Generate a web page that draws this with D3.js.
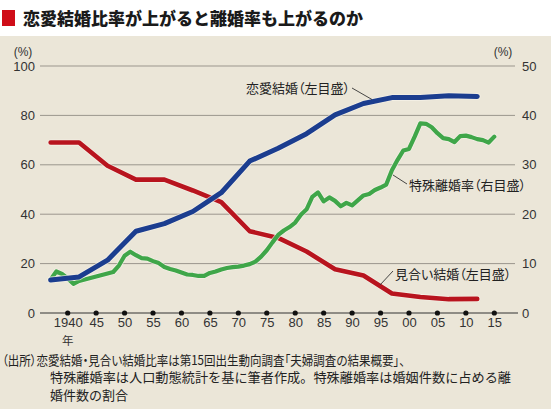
<!DOCTYPE html>
<html><head><meta charset="utf-8">
<script src="https://cdn.jsdelivr.net/npm/d3@7/dist/d3.min.js"></script>
<style>
html,body{margin:0;padding:0;background:#fff;}
svg{display:block;}
text{font-family:"Noto Sans CJK JP","Noto Sans",sans-serif;}
.num{font-family:"Liberation Sans",Arial,sans-serif;}
.palt{font-feature-settings:"palt";}
</style></head><body>
<svg id="c" width="551" height="409"></svg>
<script>
// ---- data ----
const title = "恋愛結婚比率が上がると離婚率も上がるのか";
const xTickYears = [1940,1945,1950,1955,1960,1965,1970,1975,1980,1985,1990,1995,2000,2005,2010,2015];
const xTickLabels = ["1940","45","50","55","60","65","70","75","80","85","90","95","00","05","10","15"];
const leftTicks = [0,20,40,60,80,100];
const rightTicks = [0,10,20,30,40,50];
// survey periods (1935-39 ... 2010-14) plotted at their mid years
const surveyYears = [1937,1942,1947,1952,1957,1962,1967,1972,1977,1982,1987,1992,1997,2002,2007,2012];
const loveMarriage = [13.4,14.6,21.4,33.1,36.2,41.1,48.7,61.5,66.7,72.6,80.2,84.8,87.2,87.2,88.0,87.7];
const arrangedMarriage = [69.0,69.0,59.6,54.0,54.0,49.6,44.9,33.1,30.4,24.9,17.7,15.2,7.9,6.5,5.6,5.7];
const divorceYears = [1937,1938,1939,1940,1941,1942,1943,1947,1948,1949,1950,1951,1952,1953,1954,1955,1956,1957,1958,1959,
  1960,1961,1962,1963,1964,1965,1966,1967,1968,1969,1970,1971,1972,1973,1974,1975,1976,1977,1978,1979,
  1980,1981,1982,1983,1984,1985,1986,1987,1988,1989,1990,1991,1992,1993,1994,1995,1996,1997,1998,1999,
  2000,2001,2002,2003,2004,2005,2006,2007,2008,2009,2010,2011,2012,2013,2014,2015];
const divorceRate = [6.8,8.4,7.9,7.0,5.9,6.5,6.8,8.0,8.3,9.6,11.6,12.4,11.7,11.1,11.0,10.5,10.1,9.3,8.9,8.6,
  8.2,7.8,7.7,7.5,7.5,8.1,8.4,8.8,9.1,9.3,9.4,9.6,9.9,10.4,11.4,12.7,14.3,15.8,16.7,17.4,
  18.3,19.9,21.0,23.5,24.4,22.6,23.4,22.7,21.6,22.3,21.8,22.8,23.8,24.1,24.9,25.4,26.0,28.9,31.0,32.9,
  33.2,35.7,38.4,38.3,37.6,36.4,35.4,35.2,34.6,35.8,35.9,35.6,35.2,35.0,34.5,35.7];
const seriesLabels = ["恋愛結婚（左目盛）","特殊離婚率（右目盛）","見合い結婚（左目盛）"];
const footnote = [
  "（出所）恋愛結婚・見合い結婚比率は第15回出生動向調査「夫婦調査の結果概要」、",
  "特殊離婚率は人口動態統計を基に筆者作成。特殊離婚率は婚姻件数に占める離",
  "婚件数の割合"
];

// ---- chart ----
const svg = d3.select("#c");
const W = 551, H = 409;
svg.append("rect").attr("width",W).attr("height",H).attr("fill","#fff");
svg.append("rect").attr("x",0).attr("y",36).attr("width",W).attr("height",H-36).attr("fill","#ebe6d8");

// title
svg.append("rect").attr("x",2).attr("y",10).attr("width",13).attr("height",16).attr("fill","#cf0d18");
svg.append("text").attr("x",23).attr("y",19).attr("dy","0.36em")
  .attr("font-size",17).attr("font-weight",900).attr("fill","#1a1a1a").text(title);

const x = d3.scaleLinear().domain([1940,2015]).range([67.7,494.3]);
const yL = d3.scaleLinear().domain([0,100]).range([313,66]);
const yR = d3.scaleLinear().domain([0,50]).range([313,66]);

// grid
svg.append("g").selectAll("line").data(leftTicks.filter(d=>d>0)).join("line")
  .attr("x1",40).attr("x2",515).attr("y1",d=>yL(d)).attr("y2",d=>yL(d))
  .attr("stroke","#9b968d").attr("stroke-width",1);

// left axis labels
const gl = svg.append("g").attr("transform","translate(35,0)")
  .call(d3.axisLeft(yL).tickValues(leftTicks).tickSize(0).tickPadding(0));
gl.select(".domain").remove();
gl.selectAll("text").attr("class","num").attr("font-size",13).attr("fill","#333");
// right axis labels
const gr = svg.append("g").attr("transform","translate(522,0)")
  .call(d3.axisRight(yR).tickValues(rightTicks).tickSize(0).tickPadding(0));
gr.select(".domain").remove();
gr.selectAll("text").attr("class","num").attr("font-size",13).attr("fill","#333");

svg.append("text").attr("class","num").attr("x",23).attr("y",52).attr("dy","0.35em")
  .attr("text-anchor","middle").attr("font-size",12).attr("fill","#333").text("(%)");
svg.append("text").attr("class","num").attr("x",503).attr("y",52).attr("dy","0.35em")
  .attr("text-anchor","middle").attr("font-size",12).attr("fill","#333").text("(%)");

// x axis
svg.append("line").attr("x1",40).attr("x2",518).attr("y1",yL(0)).attr("y2",yL(0))
  .attr("stroke","#333").attr("stroke-width",1);
const gx = svg.append("g").attr("transform",`translate(0,${yL(0)})`)
  .call(d3.axisBottom(x).tickValues(xTickYears).tickFormat((d,i)=>xTickLabels[i]).tickSize(0).tickPadding(5));
gx.select(".domain").remove();
gx.selectAll("text").attr("class","num").attr("font-size",13).attr("fill","#333");
svg.append("g").selectAll("circle").data(xTickYears).join("circle")
  .attr("cx",d=>x(d)).attr("cy",yL(0)).attr("r",2.6).attr("fill","#111");
svg.append("text").attr("x",x(1940)).attr("y",340.5).attr("dy","0.35em").attr("text-anchor","middle")
  .attr("font-size",11.5).attr("fill","#333").text("年");

// lines
const lineL = d3.line().x(d=>x(d[0])).y(d=>yL(d[1]));
const lineR = d3.line().x(d=>x(d[0])).y(d=>yR(d[1]));
const redData = surveyYears.map((y,i)=>[y,arrangedMarriage[i]]);
const blueData = surveyYears.map((y,i)=>[y,loveMarriage[i]]);
const greenData = divorceYears.map((y,i)=>[y,divorceRate[i]]);
function drawLine(data, gen, color, w){
  svg.append("path").datum(data).attr("d",gen).attr("fill","none")
    .attr("stroke","#f6f2ea").attr("stroke-opacity",0.7).attr("stroke-width",w+1.6)
    .attr("stroke-linejoin","round").attr("stroke-linecap","round");
  svg.append("path").datum(data).attr("d",gen).attr("fill","none")
    .attr("stroke",color).attr("stroke-width",w)
    .attr("stroke-linejoin","round").attr("stroke-linecap","round");
}
drawLine(redData, lineL, "#b8141e", 4.6);
drawLine(greenData, lineR, "#3fa649", 4.2);
drawLine(blueData, lineL, "#1b3d8f", 5);

// annotations
const ann = svg.append("g").attr("font-size",13).attr("fill","#222");
ann.append("text").attr("class","palt").attr("x",350).attr("y",88).attr("dy","0.36em").attr("text-anchor","end").text(seriesLabels[0]);
ann.append("line").attr("x1",352).attr("y1",88).attr("x2",372).attr("y2",99.5).attr("stroke","#333").attr("stroke-width",0.9);
ann.append("text").attr("class","palt").attr("x",409).attr("y",185).attr("dy","0.36em").text(seriesLabels[1]);
ann.append("line").attr("x1",393).attr("y1",175).attr("x2",407).attr("y2",184).attr("stroke","#333").attr("stroke-width",0.9);
ann.append("text").attr("class","palt").attr("x",395).attr("y",274).attr("dy","0.36em").text(seriesLabels[2]);
ann.append("line").attr("x1",380).attr("y1",285).attr("x2",393).attr("y2",271).attr("stroke","#333").attr("stroke-width",0.9);

// footnote
const fn = svg.append("g").attr("font-size",13).attr("fill","#222");
fn.append("text").attr("class","palt").attr("x",2).attr("y",360).attr("dy","0.36em")
  .attr("textLength",403).attr("lengthAdjust","spacingAndGlyphs").text(footnote[0]);
fn.append("text").attr("x",50).attr("y",377.5).attr("dy","0.36em")
  .attr("textLength",461).attr("lengthAdjust","spacingAndGlyphs").text(footnote[1]);
fn.append("text").attr("x",50).attr("y",395).attr("dy","0.36em").text(footnote[2]);
</script>
</body></html>
